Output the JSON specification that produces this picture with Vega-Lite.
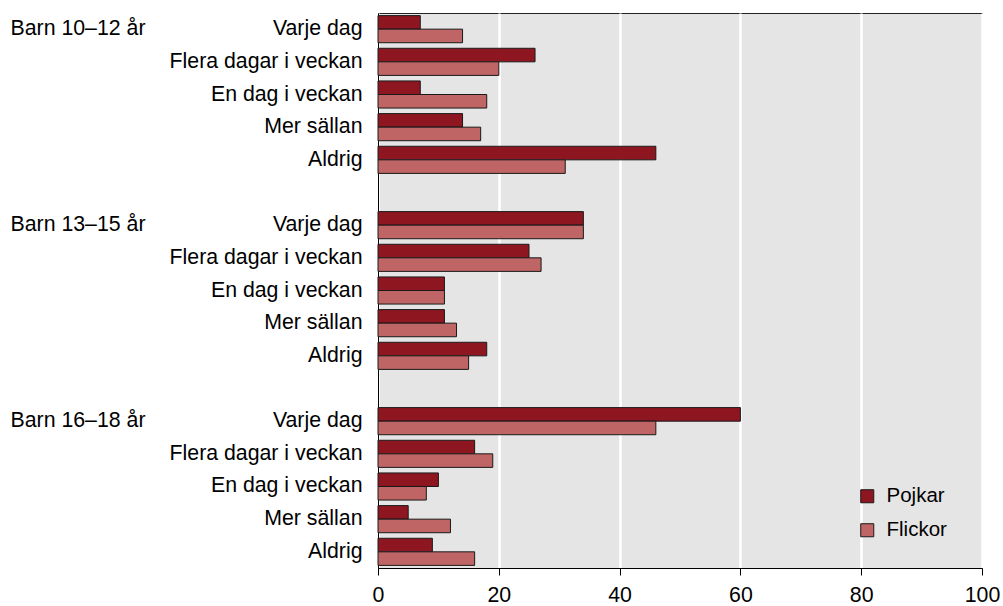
{
  "$schema": "https://vega.github.io/schema/vega-lite/v6.json",
  "width": 604,
  "height": 555,
  "autosize": {"type": "pad"},
  "padding": {"left": 10, "top": 13, "right": 0, "bottom": 0},
  "background": "white",
  "config": {
    "font": "Liberation Sans",
    "view": {"fill": "#E5E5E5", "stroke": "#222222", "strokeWidth": 1}
  },
  "data": {
    "values": [
      {"rad": "Barn 10–12 år|Varje dag", "grupp": "Barn 10–12 år", "svar": "Varje dag", "kön": "Pojkar", "andel": 7},
      {"rad": "Barn 10–12 år|Varje dag", "grupp": "Barn 10–12 år", "svar": "Varje dag", "kön": "Flickor", "andel": 14},
      {"rad": "Barn 10–12 år|Flera dagar i veckan", "grupp": "Barn 10–12 år", "svar": "Flera dagar i veckan", "kön": "Pojkar", "andel": 26},
      {"rad": "Barn 10–12 år|Flera dagar i veckan", "grupp": "Barn 10–12 år", "svar": "Flera dagar i veckan", "kön": "Flickor", "andel": 20},
      {"rad": "Barn 10–12 år|En dag i veckan", "grupp": "Barn 10–12 år", "svar": "En dag i veckan", "kön": "Pojkar", "andel": 7},
      {"rad": "Barn 10–12 år|En dag i veckan", "grupp": "Barn 10–12 år", "svar": "En dag i veckan", "kön": "Flickor", "andel": 18},
      {"rad": "Barn 10–12 år|Mer sällan", "grupp": "Barn 10–12 år", "svar": "Mer sällan", "kön": "Pojkar", "andel": 14},
      {"rad": "Barn 10–12 år|Mer sällan", "grupp": "Barn 10–12 år", "svar": "Mer sällan", "kön": "Flickor", "andel": 17},
      {"rad": "Barn 10–12 år|Aldrig", "grupp": "Barn 10–12 år", "svar": "Aldrig", "kön": "Pojkar", "andel": 46},
      {"rad": "Barn 10–12 år|Aldrig", "grupp": "Barn 10–12 år", "svar": "Aldrig", "kön": "Flickor", "andel": 31},
      {"rad": "Barn 13–15 år|Varje dag", "grupp": "Barn 13–15 år", "svar": "Varje dag", "kön": "Pojkar", "andel": 34},
      {"rad": "Barn 13–15 år|Varje dag", "grupp": "Barn 13–15 år", "svar": "Varje dag", "kön": "Flickor", "andel": 34},
      {"rad": "Barn 13–15 år|Flera dagar i veckan", "grupp": "Barn 13–15 år", "svar": "Flera dagar i veckan", "kön": "Pojkar", "andel": 25},
      {"rad": "Barn 13–15 år|Flera dagar i veckan", "grupp": "Barn 13–15 år", "svar": "Flera dagar i veckan", "kön": "Flickor", "andel": 27},
      {"rad": "Barn 13–15 år|En dag i veckan", "grupp": "Barn 13–15 år", "svar": "En dag i veckan", "kön": "Pojkar", "andel": 11},
      {"rad": "Barn 13–15 år|En dag i veckan", "grupp": "Barn 13–15 år", "svar": "En dag i veckan", "kön": "Flickor", "andel": 11},
      {"rad": "Barn 13–15 år|Mer sällan", "grupp": "Barn 13–15 år", "svar": "Mer sällan", "kön": "Pojkar", "andel": 11},
      {"rad": "Barn 13–15 år|Mer sällan", "grupp": "Barn 13–15 år", "svar": "Mer sällan", "kön": "Flickor", "andel": 13},
      {"rad": "Barn 13–15 år|Aldrig", "grupp": "Barn 13–15 år", "svar": "Aldrig", "kön": "Pojkar", "andel": 18},
      {"rad": "Barn 13–15 år|Aldrig", "grupp": "Barn 13–15 år", "svar": "Aldrig", "kön": "Flickor", "andel": 15},
      {"rad": "Barn 16–18 år|Varje dag", "grupp": "Barn 16–18 år", "svar": "Varje dag", "kön": "Pojkar", "andel": 60},
      {"rad": "Barn 16–18 år|Varje dag", "grupp": "Barn 16–18 år", "svar": "Varje dag", "kön": "Flickor", "andel": 46},
      {"rad": "Barn 16–18 år|Flera dagar i veckan", "grupp": "Barn 16–18 år", "svar": "Flera dagar i veckan", "kön": "Pojkar", "andel": 16},
      {"rad": "Barn 16–18 år|Flera dagar i veckan", "grupp": "Barn 16–18 år", "svar": "Flera dagar i veckan", "kön": "Flickor", "andel": 19},
      {"rad": "Barn 16–18 år|En dag i veckan", "grupp": "Barn 16–18 år", "svar": "En dag i veckan", "kön": "Pojkar", "andel": 10},
      {"rad": "Barn 16–18 år|En dag i veckan", "grupp": "Barn 16–18 år", "svar": "En dag i veckan", "kön": "Flickor", "andel": 8},
      {"rad": "Barn 16–18 år|Mer sällan", "grupp": "Barn 16–18 år", "svar": "Mer sällan", "kön": "Pojkar", "andel": 5},
      {"rad": "Barn 16–18 år|Mer sällan", "grupp": "Barn 16–18 år", "svar": "Mer sällan", "kön": "Flickor", "andel": 12},
      {"rad": "Barn 16–18 år|Aldrig", "grupp": "Barn 16–18 år", "svar": "Aldrig", "kön": "Pojkar", "andel": 9},
      {"rad": "Barn 16–18 år|Aldrig", "grupp": "Barn 16–18 år", "svar": "Aldrig", "kön": "Flickor", "andel": 16}
    ]
  },
  "resolve": {"axis": {"y": "independent"}},
  "layer": [
    {
      "mark": {"type": "bar", "stroke": "#1a1a1a", "strokeWidth": 1},
      "encoding": {
        "y": {
          "field": "rad",
          "type": "nominal",
          "scale": {
            "domain": [
              "Barn 10–12 år|Varje dag", "Barn 10–12 år|Flera dagar i veckan", "Barn 10–12 år|En dag i veckan", "Barn 10–12 år|Mer sällan", "Barn 10–12 år|Aldrig",
              "gap1",
              "Barn 13–15 år|Varje dag", "Barn 13–15 år|Flera dagar i veckan", "Barn 13–15 år|En dag i veckan", "Barn 13–15 år|Mer sällan", "Barn 13–15 år|Aldrig",
              "gap2",
              "Barn 16–18 år|Varje dag", "Barn 16–18 år|Flera dagar i veckan", "Barn 16–18 år|En dag i veckan", "Barn 16–18 år|Mer sällan", "Barn 16–18 år|Aldrig"
            ],
            "paddingInner": 0.17,
            "paddingOuter": 0.08
          },
          "axis": {
            "orient": "left",
            "title": null,
            "ticks": false,
            "domain": true,
            "domainColor": "#000000",
            "domainWidth": 1,
            "labelExpr": "indexof(datum.value, '|') >= 0 ? split(datum.value, '|')[1] : ''",
            "labelAlign": "right",
            "labelBaseline": "middle",
            "labelPadding": 16,
            "labelFontSize": 21.3,
            "labelColor": "#000000",
            "labelLimit": 400,
            "labelOverlap": false,
            "grid": false
          }
        },
        "yOffset": {
          "field": "kön",
          "type": "nominal",
          "scale": {"domain": ["Pojkar", "Flickor"], "paddingInner": 0, "paddingOuter": 0}
        },
        "x": {
          "field": "andel",
          "type": "quantitative",
          "scale": {"domain": [0, 100], "nice": false},
          "axis": {
            "title": null,
            "values": [0, 20, 40, 60, 80, 100],
            "grid": true,
            "gridColor": "#ffffff",
            "gridWidth": 2.5,
            "gridOpacity": 1,
            "domainColor": "#000000",
            "tickColor": "#000000",
            "tickSize": 7,
            "labelFontSize": 21.3,
            "labelColor": "#000000",
            "labelPadding": 9,
            "labelFlush": false
          }
        },
        "color": {
          "field": "kön",
          "type": "nominal",
          "scale": {"domain": ["Pojkar", "Flickor"], "range": ["#8E1620", "#C06565"]},
          "legend": {
            "title": null,
            "orient": "none",
            "legendX": 479,
            "legendY": 473,
            "padding": 0,
            "symbolType": "square",
            "symbolSize": 170,
            "symbolStrokeColor": "#1a1a1a",
            "symbolStrokeWidth": 1,
            "symbolOpacity": 1,
            "labelFontSize": 20.5,
            "labelColor": "#000000",
            "labelOffset": 9,
            "rowPadding": 13
          }
        }
      }
    },
    {
      "mark": {"type": "point", "opacity": 0},
      "encoding": {
        "y": {
          "field": "rad",
          "type": "nominal",
          "axis": {
            "orient": "left",
            "title": null,
            "ticks": false,
            "domain": false,
            "grid": false,
            "labelExpr": "indexof(datum.value, '|Varje dag') >= 0 ? split(datum.value, '|')[0] : ''",
            "labelAlign": "left",
            "labelBaseline": "middle",
            "labelPadding": 368,
            "labelFontSize": 21.3,
            "labelColor": "#000000",
            "labelLimit": 400,
            "labelOverlap": false
          }
        },
        "x": {"field": "andel", "type": "quantitative"}
      }
    }
  ]
}
